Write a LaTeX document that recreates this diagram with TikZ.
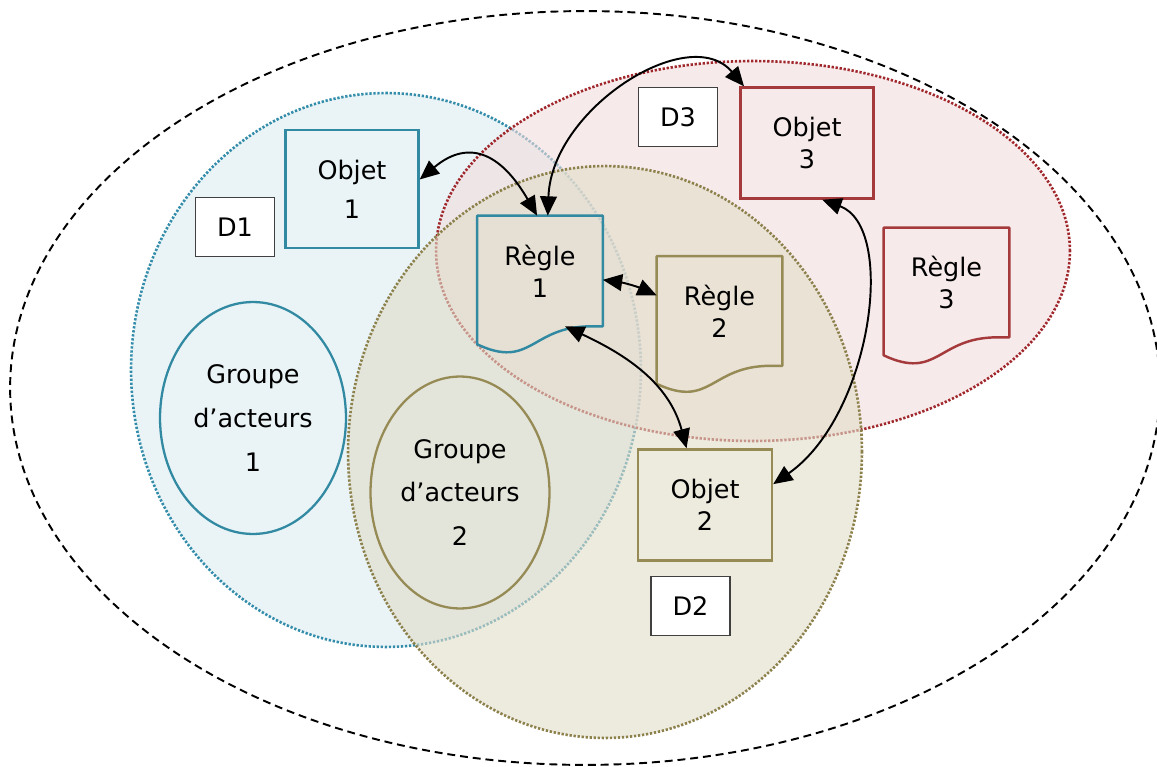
\documentclass[tikz,border=0pt]{standalone}
\usepackage{fontspec}
\setmainfont{DejaVu Sans}
\usetikzlibrary{arrows.meta,shapes.geometric}

\definecolor{bleuTrait}{RGB}{50,138,162}
\definecolor{bleuPoint}{RGB}{50,140,170}
\definecolor{bleuFond}{RGB}{234,244,247}
\definecolor{rougeTrait}{RGB}{165,58,60}
\definecolor{rougePoint}{RGB}{160,40,45}
\definecolor{rougeFond}{RGB}{242,220,220}
\definecolor{oliveTrait}{RGB}{150,138,85}
\definecolor{olivePoint}{RGB}{140,128,75}
\definecolor{oliveFond}{RGB}{225,220,200}

\begin{document}
\begin{tikzpicture}[x=0.02cm, y=0.02cm, font=\fontsize{14.5}{18}\selectfont,
    >={Triangle[length=11pt,width=9.5pt]},
    domaine/.style={line width=1.5pt, dash pattern=on 1.3pt off 1pt},
    objet/.style={draw, line width=1.4pt, align=center, inner sep=0pt, minimum width=2.66cm, minimum height=2.22cm},
    regle/.style={align=center, inner sep=0pt, minimum width=2.5cm, minimum height=2.2cm},
    regleligne/.style={line width=1.4pt, line join=round},
    etiquette/.style={draw=black!75, line width=0.8pt, fill=white, inner sep=0pt, minimum width=1.58cm, minimum height=1.18cm},
    groupe/.style={ellipse, draw, line width=1.3pt, align=center, inner sep=0pt, minimum height=4.64cm, font=\fontsize{14.5}{25}\selectfont},
    lien/.style={<->, line width=1.1pt}]
        \useasboundingbox (0,0) rectangle (1157,-767);

        % domaines
        \filldraw[domaine, draw=bleuPoint, fill=bleuFond] (386,-370) ellipse [x radius=5.1cm, y radius=5.54cm];
        \filldraw[domaine, draw=rougePoint, fill=rougeFond, fill opacity=0.6] (753,-251) ellipse [x radius=6.34cm, y radius=3.8cm];
        \filldraw[domaine, draw=olivePoint, fill=oliveFond, fill opacity=0.6] (605,-452) ellipse [x radius=5.14cm, y radius=5.72cm];
        \draw[dash pattern=on 4.5pt off 2.8pt, line width=1.1pt] (585,-388) ellipse [x radius=11.5cm, y radius=7.54cm];

        \node[etiquette](D1) at (235,-227) {D1};
        \node[etiquette](D3) at (678,-117) {D3};
        \node[etiquette](D2) at (690.5,-606) {D2};

        \node[objet, draw=bleuTrait, minimum height=2.36cm](Objet1) at (352,-189) {Objet\\[4pt]1};
        \node[objet, draw=rougeTrait](Objet3) at (807,-143) {Objet\\3};
        \node[objet, draw=oliveTrait, minimum width=2.68cm](Objet2) at (705,-505) {Objet\\2};

        \node[regle](Regle1) at (540,-271) {Règle\\1};
        \node[regle, minimum height=2.18cm](Regle2) at (719.5,-311) {Règle\\2};
        \node[regle, minimum height=2.18cm](Regle3) at (946.5,-282.5) {Règle\\3};
        \foreach \r/\c in {Regle1/bleuTrait, Regle2/oliveTrait, Regle3/rougeTrait}
            \draw[regleligne, draw=\c] ([xshift=-0.24cm]\r.south east) -- (\r.south east) -- (\r.north east)
                -- (\r.north west) -- ([yshift=-0.36cm]\r.south west)
                to[out=-25, in=180, out distance=1.2cm, in distance=1.2cm] ([xshift=-0.24cm]\r.south east) -- cycle;

        \node[groupe, draw=bleuTrait, minimum width=3.72cm](Groupe1) at (253,-418) {Groupe\\d’acteurs\\1};
        \node[groupe, draw=oliveTrait, minimum width=3.58cm](Groupe2) at (460,-492.5) {Groupe\\d’acteurs\\2};

        % liens
        \draw[lien] (Objet1.8) to[out=40, in=120, looseness=1.4] (Regle1.93);
        \draw[lien] (Regle1.82) to[out=88, in=130, out distance=2.14cm, in distance=1.7cm] (Objet3.138);
        \draw[lien] (Regle1.-8) to[bend left=8] (Regle2.166);
        \draw[lien] ([xshift=0.5cm]Regle1.south) to[out=-25, in=105] (Objet2.108);
        \draw[lien] (Objet3.-75) to[out=-20, in=35, out distance=1.6cm, in distance=2.4cm] (Objet2.17);
    \end{tikzpicture}
\end{document}
